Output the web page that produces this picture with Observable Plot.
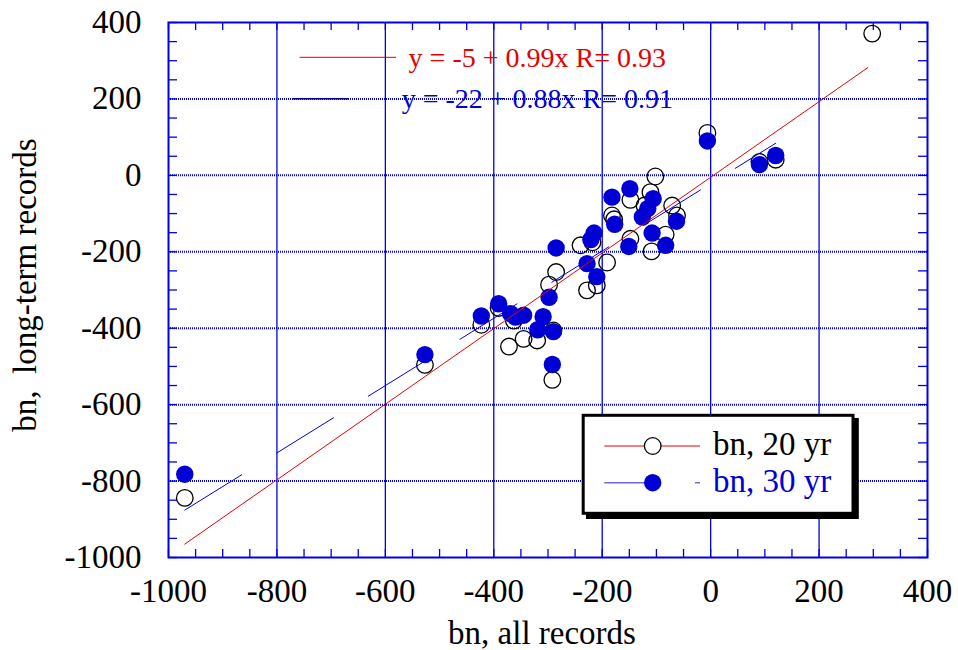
<!DOCTYPE html>
<html><head><meta charset="utf-8">
<script src="https://cdn.jsdelivr.net/npm/d3@7"></script>
<script src="https://cdn.jsdelivr.net/npm/@observablehq/plot@0.6"></script>
<style>
html,body{margin:0;padding:0;background:#fff;}
#wrap{position:relative;width:958px;height:650px;}
#wrap > svg{display:block;}
#overlay{position:absolute;left:0;top:0;}
</style></head><body><div id="wrap"></div>
<script>
// ---- data ----
const allRec20 = [-970, -527, -423, -391, -372, -363, -345, -320, -290, -292, -298, -285, -228, -210, -240, -218, -191, -182, -178, -148, -148, -111, -102, -71, -62, -83, -109, -122, -6, 90, 120, 298];
const longRec20 = [-844, -496, -391, -347, -448, -380, -428, -432, -406, -535, -286, -253, -301, -288, -183, -175, -228, -105, -115, -64, -166, -44, -3, -79, -105, -155, -199, -79, 111, 35, 41, 371];
const allRec30 = [-970, -527, -423, -391, -369, -360, -345, -309, -319, -290, -292, -298, -285, -228, -210, -215, -221, -182, -177, -149, -151, -106, -116, -126, -63, -108, -83, -6, 90, 120];
const longRec30 = [-782, -469, -368, -336, -362, -371, -366, -370, -404, -409, -495, -319, -190, -231, -265, -151, -168, -57, -128, -35, -186, -61, -87, -109, -120, -151, -183, 90, 28, 52];
const fit20X = [-970, 290];
const fit20Y = [-965, 282];
const fit30X = [-970, 120];
const fit30Y = [-876, 84];
const xTicks = [-1000, -800, -600, -400, -200, 0, 200, 400];
const yTicks = [-1000, -800, -600, -400, -200, 0, 200, 400];
const gridX = [-800, -600, -400, -200, 0, 200];
const gridY = [-800, -600, -400, -200, 0, 200];
const xTitle = "bn, all records";
const yTitle = "bn,  long-term records";
const eq20 = "y = -5 + 0.99x R= 0.93";
const eq30 = "y = -22 + 0.88x R= 0.91";
const legendLabels = ["bn, 20 yr", "bn, 30 yr"];

// ---- layout ----
const W = 958, H = 650, mL = 168, mR = 31, mT = 22, mB = 93;
const innerW = W - mL - mR, innerH = H - mT - mB;
const BLUE = "#0000e6";
const FILL30 = "#0000d4";
const RED = "#e60000";
const FONT = "'Liberation Serif', 'Times New Roman', serif";
const minorX = d3.range(-1000, 401, 50);
const minorY = d3.range(-1000, 401, 50);

const pts20 = allRec20.map((x, i) => ({x, y: longRec20[i]}));
const pts30 = allRec30.map((x, i) => ({x, y: longRec30[i]}));
const line20 = fit20X.map((x, i) => ({x, y: fit20Y[i]}));
const line30 = fit30X.map((x, i) => ({x, y: fit30Y[i]}));

const chart = Plot.plot({
  width: W, height: H,
  marginLeft: mL, marginRight: mR, marginTop: mT, marginBottom: mB,
  x: {domain: [-1000, 400]},
  y: {domain: [-1000, 400]},
  style: {fontFamily: FONT, fontSize: "33px", background: "white", color: "black", overflow: "visible"},
  marks: [
    Plot.ruleX(gridX, {stroke: BLUE, strokeWidth: 1.3}),
    Plot.ruleY(gridY, {stroke: BLUE, strokeWidth: 2, strokeDasharray: "1,1"}),
    Plot.tickX(minorX, {x: d => d, insetTop: innerH - 8, stroke: BLUE, strokeWidth: 1.3}),
    Plot.tickX(minorX, {x: d => d, insetBottom: innerH - 8, stroke: BLUE, strokeWidth: 1.3}),
    Plot.tickY(minorY, {y: d => d, insetRight: innerW - 9, stroke: BLUE, strokeWidth: 1.3}),
    Plot.tickY(minorY, {y: d => d, insetLeft: innerW - 9, stroke: BLUE, strokeWidth: 1.3}),
    Plot.dot(pts20, {x: "x", y: "y", r: 8.3, stroke: "black", strokeWidth: 1.3, fill: "none"}),
    Plot.dot(pts30, {x: "x", y: "y", r: 8.7, fill: FILL30, stroke: "none"}),
    Plot.line(line20, {x: "x", y: "y", stroke: RED, strokeWidth: 1}),
    Plot.line(line30, {x: "x", y: "y", stroke: BLUE, strokeWidth: 1, strokeDasharray: "67,41"}),
    Plot.frame({stroke: BLUE, strokeWidth: 2}),
    Plot.axisX({ticks: xTicks, tickSize: 0, tickPadding: 21, fontSize: 33, label: null, tickFormat: d => String(d)}),
    Plot.axisY({ticks: yTicks, tickSize: 0, tickPadding: 27, fontSize: 33, label: null, tickFormat: d => String(d)}),
    Plot.text([xTitle], {text: d => d, frameAnchor: "bottom", textAnchor: "middle", dy: 86, dx: -6, lineAnchor: "bottom", fontSize: 33, fill: "black"}),
    Plot.text([yTitle], {text: d => d, frameAnchor: "left", textAnchor: "middle", rotate: -90, dx: -133, dy: -5, lineAnchor: "bottom", fontSize: 33, fill: "black"})
  ]
});

const wrap = document.getElementById("wrap");
wrap.appendChild(chart);

// ---- in-plot annotations (equation keys and legend box) ----
const ov = d3.select(wrap).append("svg").attr("id", "overlay")
  .attr("width", W).attr("height", H)
  .style("font-family", FONT);

// equations
ov.append("line").attr("x1", 299.5).attr("x2", 396).attr("y1", 57.3).attr("y2", 57.3).attr("stroke", RED).attr("stroke-width", 1);
ov.append("text").attr("x", 408.6).attr("y", 66.7).attr("font-size", 28).attr("fill", RED).text(eq20);
ov.append("line").attr("x1", 292.6).attr("x2", 348).attr("y1", 98.7).attr("y2", 98.7).attr("stroke", "#00008c").attr("stroke-width", 1.5);
ov.append("text").attr("x", 401.7).attr("y", 108.3).attr("font-size", 28).attr("fill", FILL30).text(eq30);

// legend box with shadow
ov.append("rect").attr("x", 587.5).attr("y", 419.5).attr("width", 269.8).attr("height", 98).attr("fill", "black").attr("stroke", "black").attr("stroke-width", 3);
ov.append("rect").attr("x", 583.2).attr("y", 415.3).attr("width", 269.8).attr("height", 98).attr("fill", "white").attr("stroke", "black").attr("stroke-width", 3);
// row 1
ov.append("line").attr("x1", 604.3).attr("x2", 700).attr("y1", 446).attr("y2", 446).attr("stroke", RED).attr("stroke-width", 1);
ov.append("circle").attr("cx", 652.7).attr("cy", 446).attr("r", 8.3).attr("fill", "white").attr("stroke", "black").attr("stroke-width", 1.3);
ov.append("text").attr("x", 713).attr("y", 454.5).attr("font-size", 33).attr("fill", "black").text(legendLabels[0]);
// row 2
ov.append("line").attr("x1", 604.3).attr("x2", 655).attr("y1", 482.7).attr("y2", 482.7).attr("stroke", "#6a6ae6").attr("stroke-width", 1.5);
ov.append("line").attr("x1", 695).attr("x2", 700).attr("y1", 482.7).attr("y2", 482.7).attr("stroke", "#6a6ae6").attr("stroke-width", 1.5);
ov.append("circle").attr("cx", 652.7).attr("cy", 482.7).attr("r", 8.7).attr("fill", FILL30);
ov.append("text").attr("x", 713).attr("y", 491.7).attr("font-size", 33).attr("fill", FILL30).text(legendLabels[1]);
</script>
</body></html>
